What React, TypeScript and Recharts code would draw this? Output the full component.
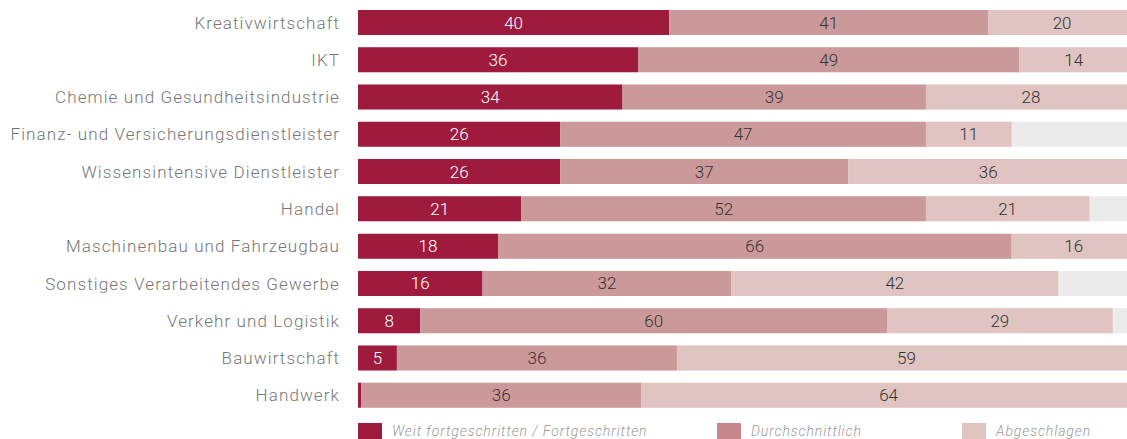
import { BarChart, Bar, XAxis, YAxis, LabelList } from "recharts";

const categories = [
  "Kreativwirtschaft",
  "IKT",
  "Chemie und Gesundheitsindustrie",
  "Finanz- und Versicherungsdienstleister",
  "Wissensintensive Dienstleister",
  "Handel",
  "Maschinenbau und Fahrzeugbau",
  "Sonstiges Verarbeitendes Gewerbe",
  "Verkehr und Logistik",
  "Bauwirtschaft",
  "Handwerk",
];

const advanced = [40, 36, 34, 26, 26, 21, 18, 16, 8, 5, 0.4];
const average = [41, 49, 39, 47, 37, 52, 66, 32, 60, 36, 36];
const behind = [20, 14, 28, 11, 36, 21, 16, 42, 29, 59, 64];

const SERIES = [
  { key: "advanced", name: "Weit fortgeschritten / Fortgeschritten", color: "#9E1B3E", text: "#ffffff" },
  { key: "average", name: "Durchschnittlich", color: "#CC999A", text: "#333333" },
  { key: "behind", name: "Abgeschlagen", color: "#E0C4C1", text: "#333333" },
];

const data = categories.map((name, i) => ({
  name,
  advanced: advanced[i],
  average: average[i],
  behind: behind[i],
}));

const FONT = "Roboto, 'Open Sans', sans-serif";

function LegendRow() {
  const xs = [358, 717, 962];
  return (
    <div style={{ position: "absolute", left: 0, top: 423, width: 1127, height: 16 }}>
      {SERIES.map((s, i) => (
        <div key={s.key} style={{ position: "absolute", left: xs[i], top: 0, display: "flex", alignItems: "center" }}>
          <div style={{ width: 24, height: 16, background: s.key === "average" ? "#C6868B" : s.color }} />
          <span
            style={{
              marginLeft: 10,
              fontFamily: FONT,
              fontStyle: "italic",
              fontWeight: 300,
              fontSize: 14,
              color: "#9a9a9a",
              letterSpacing: 0.9,
            }}
          >
            {s.name}
          </span>
        </div>
      ))}
    </div>
  );
}

export default function App() {
  return (
    <div style={{ position: "absolute", left: 0, top: 0, width: 1127, height: 439, overflow: "hidden", background: "#fff" }}>
      <BarChart
        width={1136}
        height={439}
        data={data}
        layout="vertical"
        margin={{ top: 4, right: 0, bottom: 25, left: 0 }}
        barCategoryGap={12}
      >
        <XAxis type="number" domain={[0, 100]} allowDataOverflow hide />
        <YAxis
          type="category"
          dataKey="name"
          width={358}
          axisLine={false}
          tickLine={false}
          tickMargin={12}
          interval={0}
          tick={{ fill: "#777777", fontSize: 17, fontFamily: FONT, fontWeight: 300, letterSpacing: 1.1 }}
        />
        {SERIES.map((s, i) => (
          <Bar
            key={s.key}
            dataKey={s.key}
            name={s.name}
            stackId="a"
            fill={s.color}
            barSize={25}
            isAnimationActive={false}
            background={i === 0 ? { fill: "#EBEBEB" } : undefined}
          >
            <LabelList
              dataKey={s.key}
              position="center"
              fill={s.text}
              fontSize={17}
              fontFamily={FONT}
              fontWeight={300}
              formatter={(v: number) => (v >= 1 ? String(Math.round(v)) : "")}
            />
          </Bar>
        ))}
      </BarChart>
      <LegendRow />
    </div>
  );
}
